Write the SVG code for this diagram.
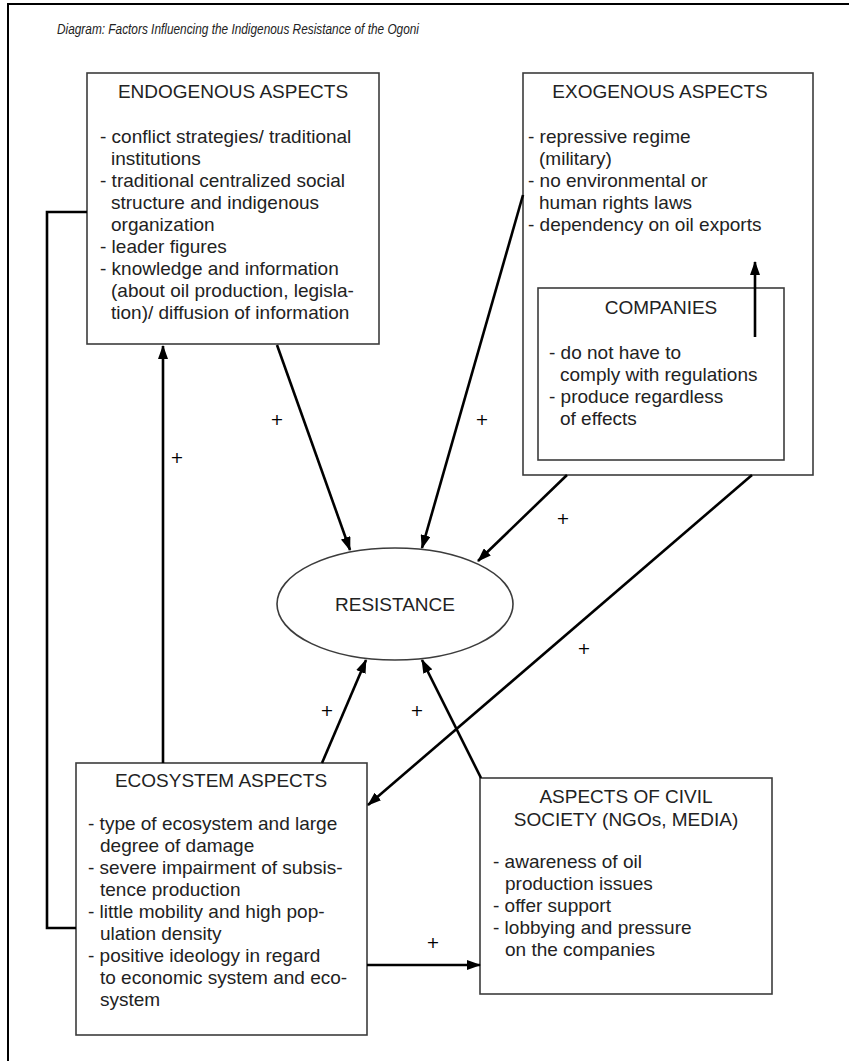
<svg xmlns="http://www.w3.org/2000/svg" width="849" height="1061" viewBox="0 0 849 1061">
<defs>
<style>
.box{fill:#fff;stroke:#3c3c3c;stroke-width:1.6}
.t{font-family:"Liberation Sans",Arial,Helvetica,sans-serif;font-size:19px;fill:#222}
.h{text-anchor:middle}
.c{fill:none;stroke:#000;stroke-width:2.6}
.p{font-family:"DejaVu Sans",sans-serif;font-size:16px;fill:#000;text-anchor:middle}
</style>
<marker id="ah" markerUnits="userSpaceOnUse" markerWidth="14" markerHeight="10" refX="13" refY="5" orient="auto">
<path d="M0,0 L14,5 L0,10 z" fill="#000"/>
</marker>
</defs>
<rect width="849" height="1061" fill="#fff"/>
<path d="M8,1061 V4 H849" fill="none" stroke="#000" stroke-width="2"/>
<text x="57" y="34" font-family="Liberation Sans,Arial,sans-serif" font-size="15.5" font-style="italic" fill="#222" textLength="362" lengthAdjust="spacingAndGlyphs">Diagram: Factors Influencing the Indigenous Resistance of the Ogoni</text>

<g id="endogenous">
<rect class="box" x="87" y="73" width="292" height="271"/>
<text class="t h" x="233" y="98">ENDOGENOUS ASPECTS</text>
<text class="t" x="100" y="143">- conflict strategies/ traditional</text>
<text class="t" x="111" y="165">institutions</text>
<text class="t" x="100" y="187">- traditional centralized social</text>
<text class="t" x="111" y="209">structure and indigenous</text>
<text class="t" x="111" y="231">organization</text>
<text class="t" x="100" y="253">- leader figures</text>
<text class="t" x="100" y="275">- knowledge and information</text>
<text class="t" x="111" y="297">(about oil production, legisla-</text>
<text class="t" x="111" y="319">tion)/ diffusion of information</text>
</g>

<g id="exogenous">
<rect class="box" x="523" y="73" width="290" height="402"/>
<text class="t h" x="660" y="98">EXOGENOUS ASPECTS</text>
<text class="t" x="528" y="143">- repressive regime</text>
<text class="t" x="539" y="165">(military)</text>
<text class="t" x="528" y="187">- no environmental or</text>
<text class="t" x="539" y="209">human rights laws</text>
<text class="t" x="528" y="231">- dependency on oil exports</text>
</g>

<g id="companies">
<rect x="538" y="288" width="246" height="172" fill="none" stroke="#3c3c3c" stroke-width="1.6"/>
<text class="t h" x="661" y="314">COMPANIES</text>
<text class="t" x="549" y="359">- do not have to</text>
<text class="t" x="560" y="381">comply with regulations</text>
<text class="t" x="549" y="403">- produce regardless</text>
<text class="t" x="560" y="425">of effects</text>
</g>

<g id="resistance">
<ellipse cx="395" cy="604" rx="118" ry="56" fill="#fff" stroke="#3c3c3c" stroke-width="1.6"/>
<text class="t h" x="395" y="611">RESISTANCE</text>
</g>

<g id="ecosystem">
<rect class="box" x="76" y="763" width="291" height="272"/>
<text class="t h" x="221" y="787">ECOSYSTEM ASPECTS</text>
<text class="t" x="88" y="830">- type of ecosystem and large</text>
<text class="t" x="100" y="852">degree of damage</text>
<text class="t" x="88" y="874">- severe impairment of subsis-</text>
<text class="t" x="100" y="896">tence production</text>
<text class="t" x="88" y="918">- little mobility and high pop-</text>
<text class="t" x="100" y="940">ulation density</text>
<text class="t" x="88" y="962">- positive ideology in regard</text>
<text class="t" x="100" y="984">to economic system and eco-</text>
<text class="t" x="100" y="1006">system</text>
</g>

<g id="civil">
<rect class="box" x="480" y="778" width="292" height="216"/>
<text class="t h" x="626" y="803">ASPECTS OF CIVIL</text>
<text class="t h" x="626" y="826">SOCIETY (NGOs, MEDIA)</text>
<text class="t" x="493" y="868">- awareness of oil</text>
<text class="t" x="505" y="890">production issues</text>
<text class="t" x="493" y="912">- offer support</text>
<text class="t" x="493" y="934">- lobbying and pressure</text>
<text class="t" x="505" y="956">on the companies</text>
</g>

<g id="connectors">
<polyline class="c" points="87,212 47,212 47,928 76,928"/>
<line class="c" x1="163" y1="763" x2="163" y2="346" marker-end="url(#ah)"/>
<line class="c" x1="277" y1="345" x2="350" y2="550" marker-end="url(#ah)"/>
<line class="c" x1="523" y1="195" x2="422" y2="548" marker-end="url(#ah)"/>
<line class="c" x1="567" y1="475" x2="478" y2="561" marker-end="url(#ah)"/>
<line class="c" x1="752" y1="475" x2="368" y2="805" marker-end="url(#ah)"/>
<line class="c" x1="322" y1="763" x2="366" y2="660" marker-end="url(#ah)"/>
<line class="c" x1="481" y1="778" x2="422" y2="660" marker-end="url(#ah)"/>
<line class="c" x1="367" y1="965" x2="480" y2="965" marker-end="url(#ah)"/>
<line class="c" x1="755" y1="337" x2="755" y2="262" marker-end="url(#ah)"/>
<text class="p" x="277" y="425">+</text>
<text class="p" x="482" y="425">+</text>
<text class="p" x="563" y="524">+</text>
<text class="p" x="584" y="654">+</text>
<text class="p" x="177" y="463">+</text>
<text class="p" x="327" y="716">+</text>
<text class="p" x="417" y="716">+</text>
<text class="p" x="433" y="948">+</text>
</g>
</svg>
